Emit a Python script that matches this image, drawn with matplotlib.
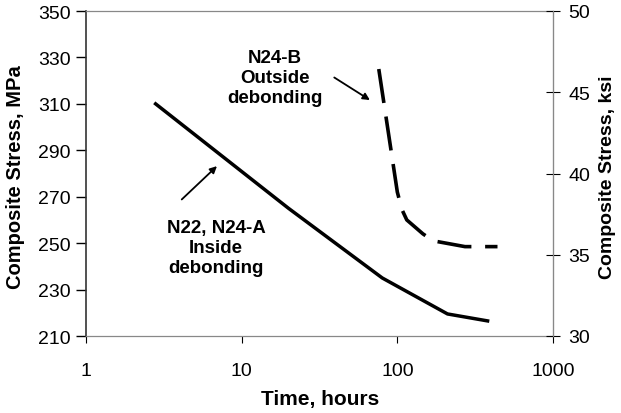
import matplotlib
matplotlib.use('Agg')
import matplotlib.pyplot as plt
import numpy as np

plt.rcParams['font.family'] = ['Liberation Sans', 'DejaVu Sans']

# N22, N24-A (inside debonding)
t_in = [2.8, 20, 80, 210, 380]
s_in = [310, 265, 235, 219.5, 216.5]

# N24-B (outside debonding)
t_out = [76, 100, 107, 115, 146, 170, 272, 440]
s_out = [325, 272, 264.5, 260, 254, 251, 248.5, 248.5]

fig = plt.figure(figsize=(6.21, 4.14), dpi=100)
ax = fig.add_axes([86/621, 1-337/414, 467/621, 325/414])

ax.plot(t_in, s_in, '-', color='black', lw=2.5, solid_joinstyle='round')
ax.plot(t_out, s_out, '-', color='black', lw=2.6, dashes=(9.5, 3.8), dash_capstyle='butt')

ax.set_xscale('log')
ax.set_xlim(1, 1000)
ax.set_ylim(210, 350)
ax.set_yticks(np.arange(210, 351, 20))
ax.set_xticks([1, 10, 100, 1000])
ax.set_xticklabels(['1', '10', '100', '1000'])
ax.minorticks_off()
ax.tick_params(axis='y', direction='out', length=7, width=1, labelsize=14, pad=4)
ax.tick_params(axis='x', direction='out', length=5, width=0.8, labelsize=14, pad=14)

for side in ['top', 'bottom', 'right']:
    ax.spines[side].set_color('#888888')
    ax.spines[side].set_linewidth(0.9)
ax.spines['left'].set_color('#333333')
ax.spines['left'].set_linewidth(1.2)

ax2 = ax.twinx()
ax2.set_ylim(30, 50)
ax2.set_yticks([30, 35, 40, 45, 50])
ax2.tick_params(axis='y', direction='inout', length=10, width=0.8, labelsize=14, pad=6)
ax2.spines['right'].set_color('#888888')
for side in ['top', 'bottom', 'left']:
    ax2.spines[side].set_visible(False)

fig.text(320/621, 1-400/414, 'Time, hours', ha='center', va='center',
         fontsize=15, fontweight='bold')
fig.text(16/621, 1-177/414, 'Composite Stress, MPa', ha='center', va='center',
         rotation=90, fontsize=14.5, fontweight='bold')
fig.text(608/621, 1-177/414, 'Composite Stress, ksi', ha='center', va='center',
         rotation=90, fontsize=14, fontweight='bold')

ax.text(16.4, 321.5, 'N24-B\nOutside\ndebonding', ha='center', va='center',
        fontsize=13.5, fontweight='bold', linespacing=1.22)
ax.annotate('', xy=(69, 311), xytext=(38, 322),
            arrowprops=dict(arrowstyle='-|>', lw=1.3, color='black', mutation_scale=10))

ax.text(6.84, 248, 'N22, N24-A\nInside\ndebonding', ha='center', va='center',
        fontsize=13.5, fontweight='bold', linespacing=1.22)
ax.annotate('', xy=(7.15, 284), xytext=(4.0, 268),
            arrowprops=dict(arrowstyle='-|>', lw=1.3, color='black', mutation_scale=10))

fig.savefig('out.png', dpi=100)
